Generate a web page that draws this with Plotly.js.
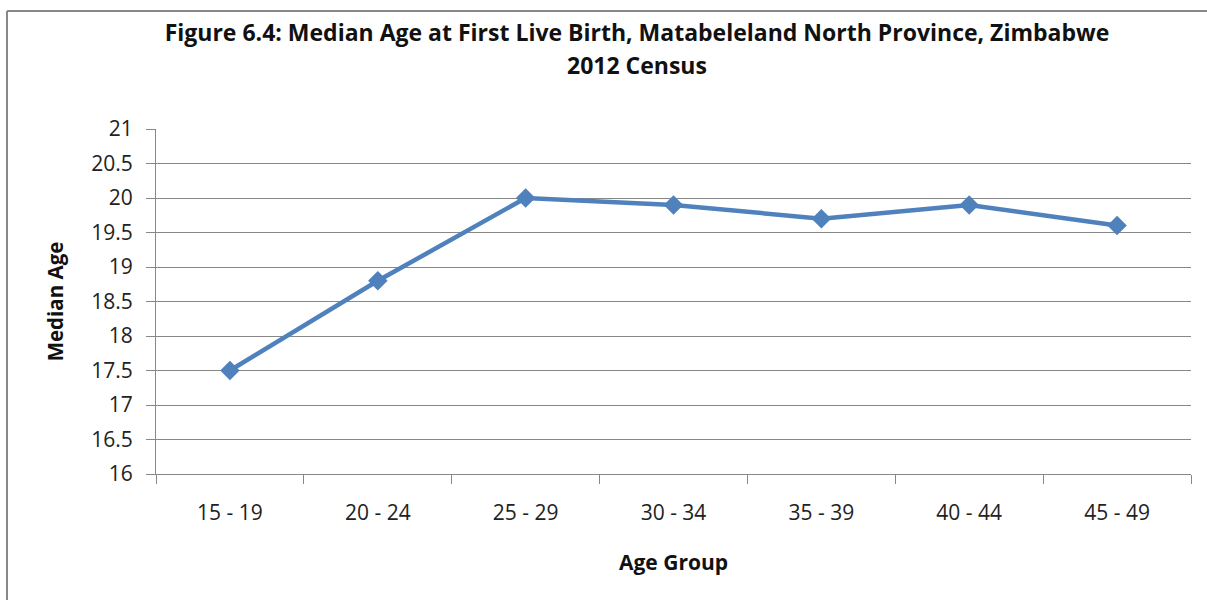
<!DOCTYPE html>
<html>
<head>
<meta charset="utf-8">
<script src="https://cdn.plot.ly/plotly-3.0.1.min.js"></script>
<style>html,body{margin:0;padding:0;background:#fff;}#chart{width:1207px;height:600px;}</style>
</head>
<body>
<div id="chart"></div>
<script>
var ageGroups = ["15 - 19", "20 - 24", "25 - 29", "30 - 34", "35 - 39", "40 - 44", "45 - 49"];
var medianAge = [17.5, 18.8, 20.0, 19.9, 19.7, 19.9, 19.6];
var titleLine1 = "Figure 6.4: Median Age at First Live Birth, Matabeleland North Province, Zimbabwe";
var titleLine2 = "2012 Census";

var W = 1207, H = 600;
var M = {l: 156, r: 16, t: 129, b: 126};
var pw = W - M.l - M.r, ph = H - M.t - M.b;
function px(x) { return (x - M.l) / pw; }
function py(y) { return (H - M.b - y) / ph; }

var font = "'Open Sans', sans-serif";

var trace = {
  x: ageGroups,
  y: medianAge,
  type: "scatter",
  mode: "lines+markers",
  line: {color: "#4F81BD", width: 4.5},
  marker: {symbol: "diamond", size: 15, color: "#4F81BD"},
  hoverinfo: "x+y"
};

var layout = {
  width: W, height: H,
  margin: M,
  paper_bgcolor: "#fff",
  plot_bgcolor: "#fff",
  showlegend: false,
  font: {family: font, color: "#222"},
  title: {
    text: "<b>" + titleLine1 + "</b>",
    font: {family: font, size: 23, color: "#111"},
    xref: "container", x: 637 / W, xanchor: "center",
    yref: "container", y: 1 - 33 / H, yanchor: "middle"
  },
  annotations: [{
    text: "<b>" + titleLine2 + "</b>",
    xref: "paper", yref: "paper",
    x: px(637), y: py(65), xanchor: "center", yanchor: "middle",
    showarrow: false,
    font: {family: font, size: 23, color: "#111"}
  }],
  xaxis: {
    type: "category",
    range: [-0.5, 6.5],
    tickson: "boundaries",
    ticks: "outside", ticklen: 9, tickcolor: "#888", tickwidth: 1,
    ticklabelstandoff: 20,
    showline: true, linecolor: "#888", linewidth: 1,
    showgrid: false, zeroline: false,
    tickfont: {family: font, size: 21, color: "#222"},
    title: {text: "<b>Age Group</b>", font: {family: font, size: 21, color: "#111"}, standoff: 30}
  },
  yaxis: {
    range: [16, 21],
    dtick: 0.5, tick0: 16,
    ticks: "outside", ticklen: 9, tickcolor: "#888", tickwidth: 1,
    ticklabelstandoff: 9,
    showline: true, linecolor: "#888", linewidth: 1,
    showgrid: true, gridcolor: "#888", gridwidth: 1,
    zeroline: false,
    tickfont: {family: font, size: 21, color: "#222"},
    title: {text: "<b>Median Age</b>", font: {family: font, size: 20.5, color: "#111"}, standoff: 22}
  },
  shapes: [
    {type: "line", xref: "paper", yref: "paper", x0: px(7), x1: px(7), y0: py(11), y1: py(600), line: {color: "#888", width: 2}},
    {type: "line", xref: "paper", yref: "paper", x0: px(7), x1: px(1207), y0: py(11), y1: py(11), line: {color: "#888", width: 2}}
  ]
};

Plotly.newPlot("chart", [trace], layout, {displayModeBar: false, staticPlot: true});
</script>
</body>
</html>
